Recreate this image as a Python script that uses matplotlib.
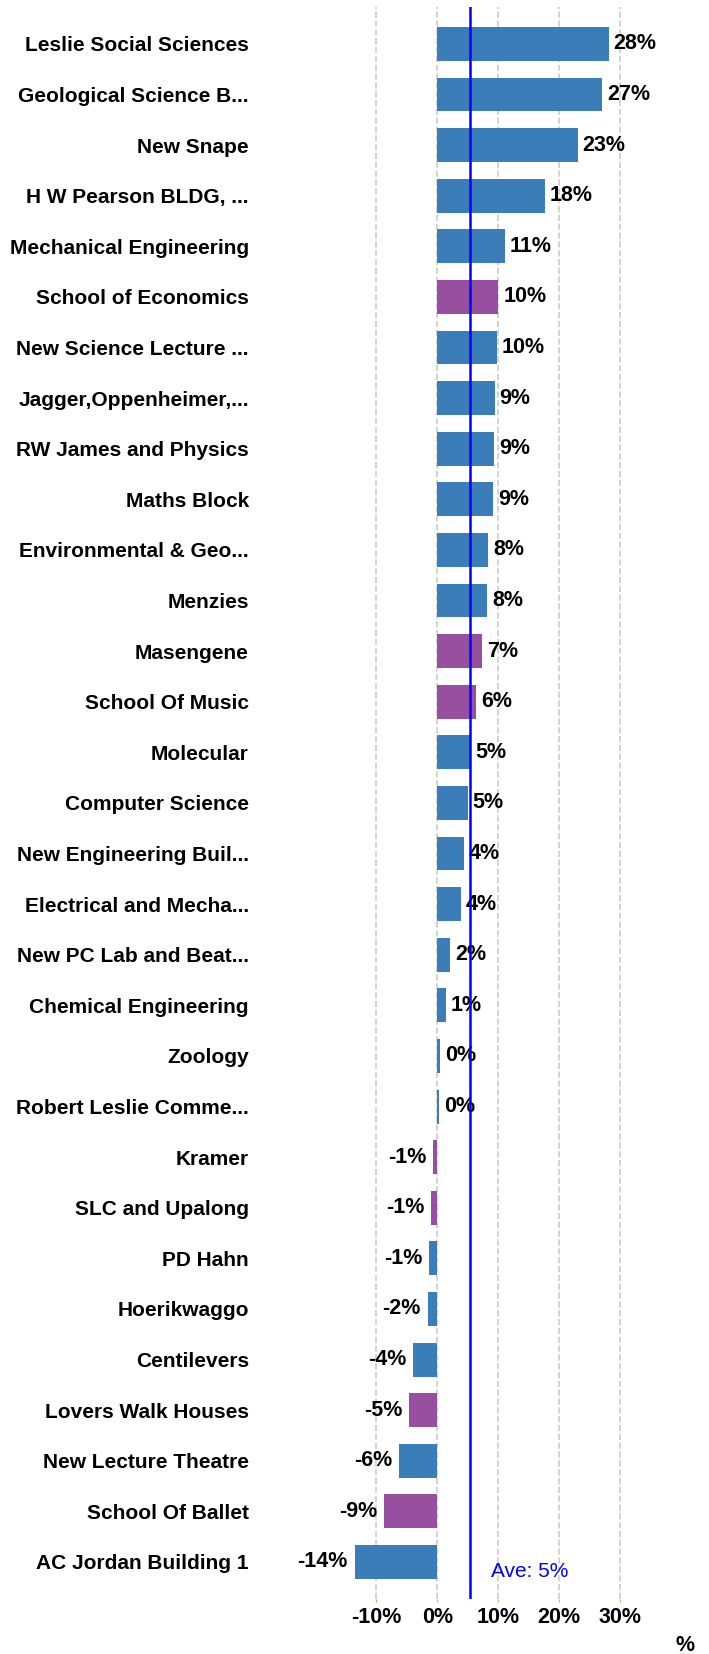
"""
Building consumption change vs. baseline, horizontal bar chart.
"""

import matplotlib
matplotlib.use("Agg")
import matplotlib.pyplot as plt


# ------------------------------------------------------------
# Data
# ------------------------------------------------------------

BUILDINGS = [
    "Leslie Social Sciences",
    "Geological Science B...",
    "New Snape",
    "H W Pearson BLDG, ...",
    "Mechanical Engineering",
    "School of Economics",
    "New Science Lecture ...",
    "Jagger,Oppenheimer,...",
    "RW James and Physics",
    "Maths Block",
    "Environmental & Geo...",
    "Menzies",
    "Masengene",
    "School Of Music",
    "Molecular",
    "Computer Science",
    "New Engineering Buil...",
    "Electrical and Mecha...",
    "New PC Lab and Beat...",
    "Chemical Engineering",
    "Zoology",
    "Robert Leslie Comme...",
    "Kramer",
    "SLC and Upalong",
    "PD Hahn",
    "Hoerikwaggo",
    "Centilevers",
    "Lovers Walk Houses",
    "New Lecture Theatre",
    "School Of Ballet",
    "AC Jordan Building 1",
]

CHANGE_PCT = [
    28.1, 27.0, 23.0, 17.6, 11.1, 10.0, 9.8, 9.4, 9.3, 9.2,
    8.3, 8.2, 7.4, 6.4, 5.4, 5.0, 4.4, 3.9, 2.1, 1.4,
    0.45, 0.3, -0.7, -1.0, -1.3, -1.6, -3.9, -4.6, -6.2, -8.7,
    -13.5,
]

# purple = residences, blue = academic
GROUP = [
    "a", "a", "a", "a", "a", "r", "a", "a", "a", "a",
    "a", "a", "r", "r", "a", "a", "a", "a", "a", "a",
    "a", "a", "r", "r", "a", "a", "a", "r", "a", "r",
    "a",
]

AVERAGE = 5.4
X_TICKS = [-10, 0, 10, 20, 30]

COLORS = {"a": "#3a7db8", "r": "#974fa0"}


# ------------------------------------------------------------
# Figure
# ------------------------------------------------------------

def main():
    plt.rcParams["font.family"] = ["Liberation Sans", "DejaVu Sans"]

    fig = plt.figure(figsize=(7.09, 16.54), dpi=100)
    ax = fig.add_axes([0.4705, 0.0333, 0.4732, 0.9625])

    n = len(BUILDINGS)
    y = list(range(n))
    colors = [COLORS[g] for g in GROUP]

    ax.barh(y, CHANGE_PCT, height=0.67, color=colors, zorder=2)

    for yi, v in zip(y, CHANGE_PCT):
        if v >= 0:
            ax.annotate(f"{round(v):d}%", (v, yi), xytext=(3.6, 0),
                        textcoords="offset points", ha="left", va="center",
                        fontsize=15.5, fontweight="bold", zorder=3)
        else:
            ax.annotate(f"{round(v):d}%", (v, yi), xytext=(-5, 0),
                        textcoords="offset points", ha="right", va="center",
                        fontsize=15.5, fontweight="bold", zorder=3,
                        annotation_clip=False)

    ax.axvline(AVERAGE, color="#0000ff", linewidth=1.8, zorder=4)
    ax.text(8.75, 30.18, f"Ave: {round(AVERAGE):d}%", color="#0000ff",
            fontsize=15, ha="left", va="center")

    ax.set_xlim(-17, 38)
    ax.set_ylim(n - 1 + 0.73, -0.73)

    ax.set_xticks(X_TICKS)
    ax.set_xticklabels([f"{t}%" for t in X_TICKS], fontsize=15.5,
                       fontweight="bold")
    ax.set_yticks(y)
    ax.set_yticklabels(BUILDINGS, fontsize=15.0, fontweight="bold")

    ax.tick_params(axis="y", length=0, pad=61)
    ax.tick_params(axis="x", length=2, color="#f0a050", pad=4)

    ax.grid(True, axis="x", color="#cccccc", linestyle="--", linewidth=1.2,
            zorder=0)
    ax.set_axisbelow(True)
    for spine in ax.spines.values():
        spine.set_visible(False)

    fig.text(0.98, 0.0054, "%", fontsize=15.5, fontweight="bold",
             ha="right", va="center")

    fig.savefig("out.png", dpi=100)


if __name__ == "__main__":
    main()
